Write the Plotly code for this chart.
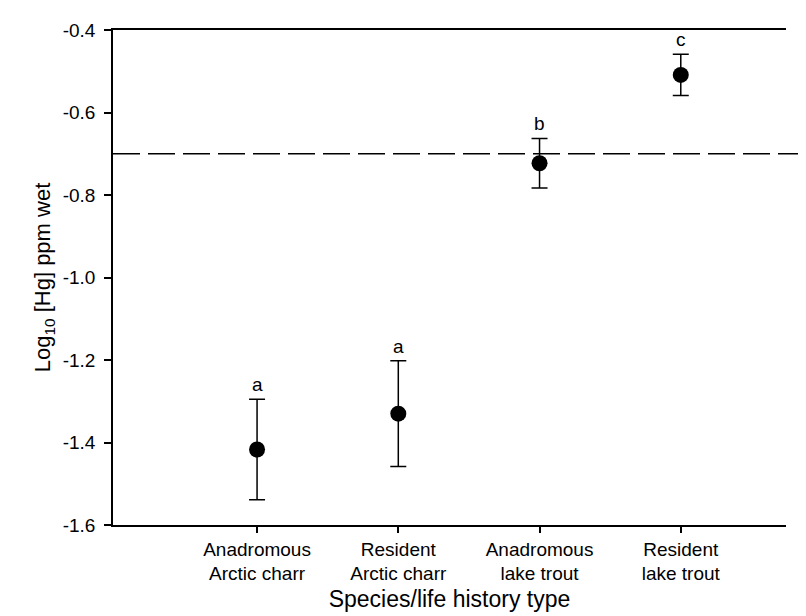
import plotly.graph_objects as go

categories = ["Anadromous<br>Arctic charr", "Resident<br>Arctic charr",
              "Anadromous<br>lake trout", "Resident<br>lake trout"]
positions = [1, 2, 3, 4]
means = [-1.417, -1.330, -0.723, -0.509]
errors = [0.122, 0.128, 0.060, 0.050]
letters = ["a", "a", "b", "c"]
reference_level = -0.7
y_ticks = [-1.6, -1.4, -1.2, -1.0, -0.8, -0.6, -0.4]

FONT = "Liberation Sans, Arial, sans-serif"

fig = go.Figure()
fig.add_trace(go.Scatter(
    x=positions, y=means, mode="markers",
    marker=dict(size=16, color="black"),
    error_y=dict(type="data", array=errors, visible=True,
                 color="black", thickness=1.5, width=8),
    showlegend=False, hoverinfo="skip",
))

# dashed reference line, running past the end of the axes to the page edge
fig.add_shape(type="line", xref="paper", yref="y", x0=0, x1=1.045,
              y0=reference_level, y1=reference_level,
              line=dict(color="black", width=1.5, dash="27px,8px"))

for xp, m, e, t in zip(positions, means, errors, letters):
    fig.add_annotation(x=xp, y=m + e, text=t, showarrow=False,
                       yanchor="bottom", yshift=2,
                       font=dict(family=FONT, size=19, color="black"))

fig.update_layout(
    width=806, height=616,
    margin=dict(l=105, r=28, t=19, b=99),
    paper_bgcolor="white", plot_bgcolor="white",
    font=dict(family=FONT, size=19, color="black"),
    xaxis=dict(
        range=[-0.02, 4.745], tickmode="array", tickvals=positions,
        ticktext=categories, showgrid=False, zeroline=False,
        showline=True, linecolor="black", linewidth=1.5, mirror=True,
        ticks="outside", ticklen=6, tickwidth=1.5, tickcolor="black",
        tickfont=dict(family=FONT, size=19),
        title=dict(text="Species/life history type",
                   font=dict(family=FONT, size=23), standoff=8),
    ),
    yaxis=dict(
        range=[-1.6, -0.4], tickmode="array", tickvals=y_ticks,
        ticktext=[f"{v:.1f}" for v in y_ticks],
        showgrid=False, zeroline=False,
        showline=True, linecolor="black", linewidth=1.5,
        ticks="outside", ticklen=7, tickwidth=1.5, tickcolor="black",
        ticklabelstandoff=5,
        tickfont=dict(family=FONT, size=19),
        title=dict(text="Log<sub>10</sub> [Hg] ppm wet",
                   font=dict(family=FONT, size=22), standoff=6),
    ),
)

fig.write_html("out.html")
